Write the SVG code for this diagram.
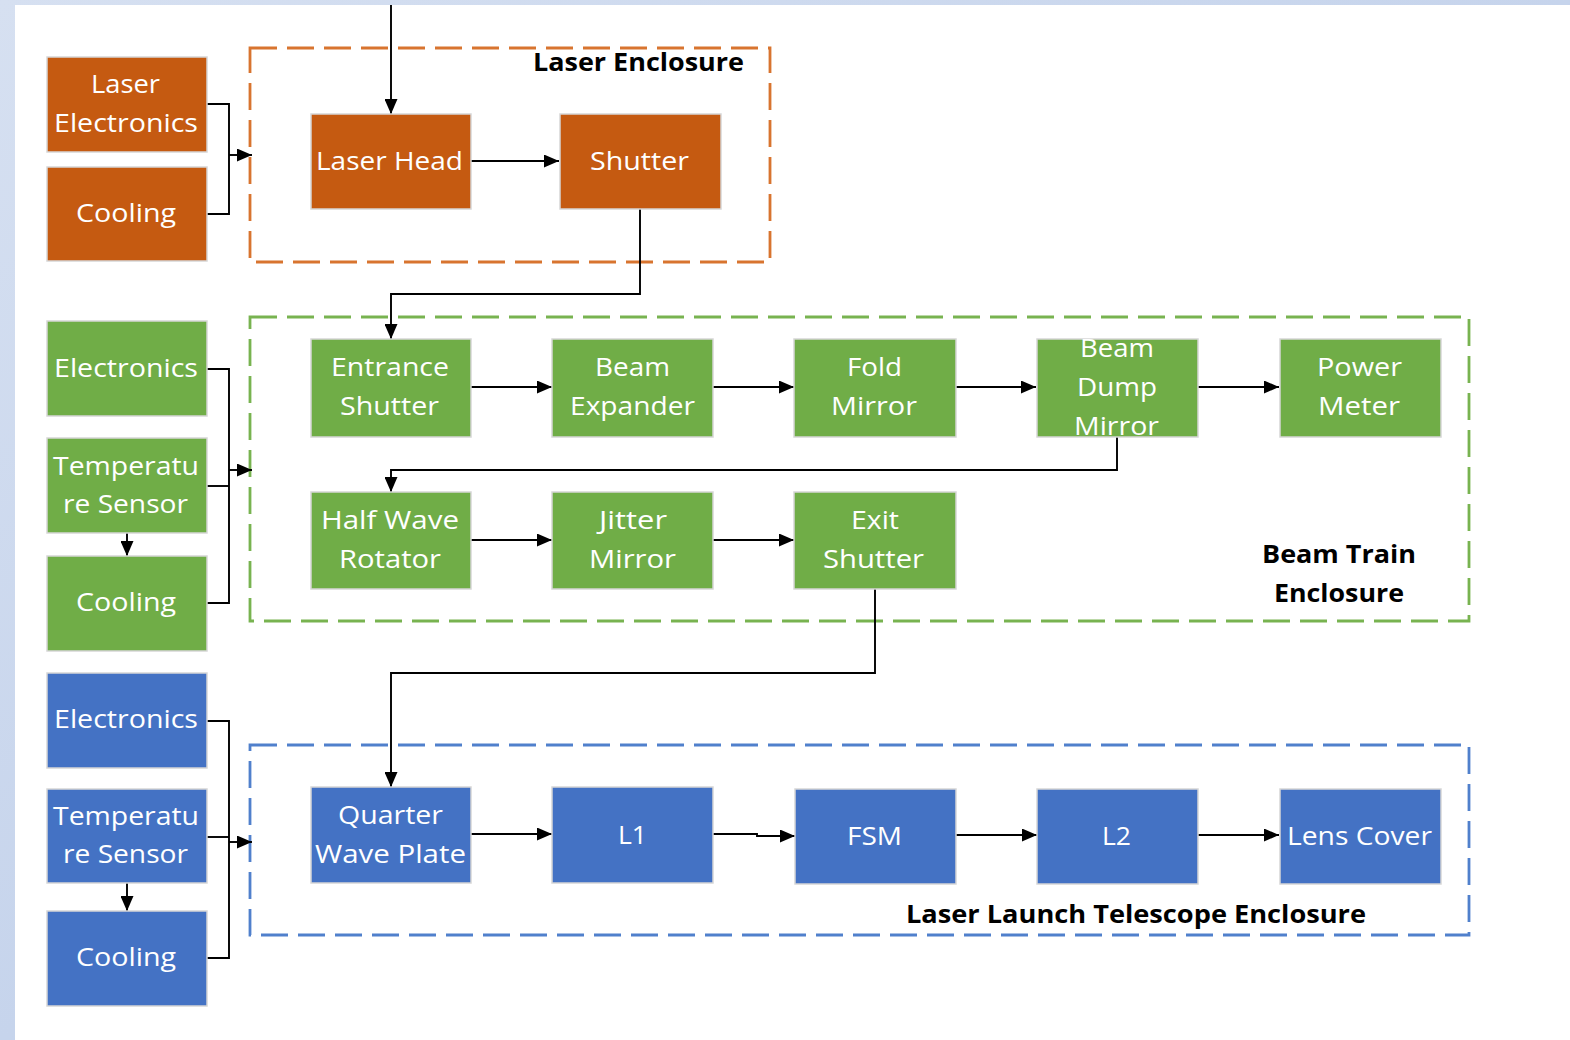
<svg xmlns="http://www.w3.org/2000/svg" width="1570" height="1040" viewBox="0 0 1570 1040">
<defs>
<linearGradient id="bg" x1="0" y1="0" x2="1" y2="1">
<stop offset="0" stop-color="#d6e0f1"/>
<stop offset="1" stop-color="#b6c8e7"/>
</linearGradient>
<marker id="arr" viewBox="0 0 15 13" refX="15" refY="6.5" markerWidth="15" markerHeight="13" markerUnits="userSpaceOnUse" orient="auto">
<path d="M0,0 L15,6.5 L0,13 z" fill="#000"/>
</marker>
<clipPath id="clipBDM"><rect x="1037" y="339" width="161" height="98"/></clipPath>
<style>
.o{fill:#C55A11;stroke:#d6d6d6;stroke-width:1.5}
.g{fill:#70AD47;stroke:#d6d6d6;stroke-width:1.5}
.b{fill:#4472C4;stroke:#d6d6d6;stroke-width:1.5}
.t{font-family:"Open Sans","Noto Sans",sans-serif;font-size:25.5px;fill:#fff}
.h{font-family:"Open Sans","Noto Sans",sans-serif;font-size:25px;font-weight:bold;fill:#000}
.encl{fill:none;stroke-width:2.8;stroke-dasharray:27 10}
.c{fill:none;stroke:#000;stroke-width:1.9}
.a{marker-end:url(#arr)}
</style>
</defs>
<rect x="0" y="0" width="1570" height="1040" fill="url(#bg)"/>
<rect x="15" y="5" width="1555" height="1035" fill="#fff"/>

<g id="enclosures">
<rect id="laser-enclosure" class="encl" x="250" y="48" width="520" height="214" stroke="#D8742F"/>
<rect id="beam-train-enclosure" class="encl" x="250" y="317" width="1219" height="304" stroke="#78B350"/>
<rect id="llt-enclosure" class="encl" x="250" y="745" width="1219" height="190" stroke="#5080CC"/>
<text class="h" x="533" y="71" textLength="211" lengthAdjust="spacingAndGlyphs">Laser Enclosure</text>
<text class="h" x="1262" y="563" textLength="154" lengthAdjust="spacingAndGlyphs">Beam Train</text>
<text class="h" x="1274" y="602" textLength="130" lengthAdjust="spacingAndGlyphs">Enclosure</text>
<text class="h" x="906" y="923" textLength="460" lengthAdjust="spacingAndGlyphs">Laser Launch Telescope Enclosure</text>
</g>

<g id="connectors">
<path class="c a" d="M391,5 V114"/>
<path class="c a" d="M471,161 H559"/>
<path class="c a" d="M640,209 V294 H391 V339"/>
<path class="c" d="M207,104 H229 V214 H207"/>
<path class="c a" d="M229,155 H252"/>
<path class="c a" d="M471,387 H552"/>
<path class="c a" d="M713,387 H794"/>
<path class="c a" d="M956,387 H1036"/>
<path class="c a" d="M1197,387 H1279"/>
<path class="c a" d="M1117,437 V470 H391 V492"/>
<path class="c a" d="M471,540 H552"/>
<path class="c a" d="M713,540 H794"/>
<path class="c a" d="M875,589 V673 H391 V787"/>
<path class="c a" d="M471,834 H552"/>
<path class="c a" d="M713,834 H757 V836 H795"/>
<path class="c a" d="M956,835 H1037"/>
<path class="c a" d="M1197,835 H1279"/>
<path class="c" d="M207,369 H229 V603 H207"/>
<path class="c" d="M207,486 H229"/>
<path class="c a" d="M229,470 H252"/>
<path class="c a" d="M127,533 V556"/>
<path class="c" d="M207,721 H229 V958 H207"/>
<path class="c" d="M207,837 H229"/>
<path class="c a" d="M229,842 H252"/>
<path class="c a" d="M127,883 V911"/>
</g>

<g id="laser-electronics"><rect class="o" x="47" y="57" width="160" height="95"/>
<text class="t" x="91" y="93" textLength="69" lengthAdjust="spacingAndGlyphs">Laser</text>
<text class="t" x="54" y="132" textLength="144" lengthAdjust="spacingAndGlyphs">Electronics</text></g>
<g id="laser-cooling"><rect class="o" x="47" y="167" width="160" height="94"/>
<text class="t" x="76" y="222" textLength="100" lengthAdjust="spacingAndGlyphs">Cooling</text></g>
<g id="laser-head"><rect class="o" x="311" y="114" width="160" height="95"/>
<text class="t" x="316" y="170" textLength="147" lengthAdjust="spacingAndGlyphs">Laser Head</text></g>
<g id="shutter"><rect class="o" x="560" y="114" width="161" height="95"/>
<text class="t" x="590" y="170" textLength="99" lengthAdjust="spacingAndGlyphs">Shutter</text></g>

<g id="bt-electronics"><rect class="g" x="47" y="321" width="160" height="95"/>
<text class="t" x="54" y="377" textLength="144" lengthAdjust="spacingAndGlyphs">Electronics</text></g>
<g id="bt-temperature-sensor"><rect class="g" x="47" y="438" width="160" height="95"/>
<text class="t" x="53" y="475" textLength="146" lengthAdjust="spacingAndGlyphs">Temperatu</text>
<text class="t" x="63" y="513" textLength="125" lengthAdjust="spacingAndGlyphs">re Sensor</text></g>
<g id="bt-cooling"><rect class="g" x="47" y="556" width="160" height="95"/>
<text class="t" x="76" y="611" textLength="100" lengthAdjust="spacingAndGlyphs">Cooling</text></g>

<g id="entrance-shutter"><rect class="g" x="311" y="339" width="160" height="98"/>
<text class="t" x="331" y="376" textLength="118" lengthAdjust="spacingAndGlyphs">Entrance</text>
<text class="t" x="340" y="415" textLength="99" lengthAdjust="spacingAndGlyphs">Shutter</text></g>
<g id="beam-expander"><rect class="g" x="552" y="339" width="161" height="98"/>
<text class="t" x="595" y="376" textLength="75" lengthAdjust="spacingAndGlyphs">Beam</text>
<text class="t" x="570" y="415" textLength="125" lengthAdjust="spacingAndGlyphs">Expander</text></g>
<g id="fold-mirror"><rect class="g" x="794" y="339" width="162" height="98"/>
<text class="t" x="847" y="376" textLength="55" lengthAdjust="spacingAndGlyphs">Fold</text>
<text class="t" x="831" y="415" textLength="86" lengthAdjust="spacingAndGlyphs">Mirror</text></g>
<g id="beam-dump-mirror"><rect class="g" x="1037" y="339" width="161" height="98"/>
<g clip-path="url(#clipBDM)">
<text class="t" x="1080" y="357" textLength="74" lengthAdjust="spacingAndGlyphs">Beam</text>
<text class="t" x="1077" y="396" textLength="80" lengthAdjust="spacingAndGlyphs">Dump</text>
<text class="t" x="1074" y="435" textLength="85" lengthAdjust="spacingAndGlyphs">Mirror</text></g></g>
<g id="power-meter"><rect class="g" x="1280" y="339" width="161" height="98"/>
<text class="t" x="1317" y="376" textLength="85" lengthAdjust="spacingAndGlyphs">Power</text>
<text class="t" x="1318" y="415" textLength="82" lengthAdjust="spacingAndGlyphs">Meter</text></g>

<g id="half-wave-rotator"><rect class="g" x="311" y="492" width="160" height="97"/>
<text class="t" x="321" y="529" textLength="138" lengthAdjust="spacingAndGlyphs">Half Wave</text>
<text class="t" x="339" y="568" textLength="102" lengthAdjust="spacingAndGlyphs">Rotator</text></g>
<g id="jitter-mirror"><rect class="g" x="552" y="492" width="161" height="97"/>
<text class="t" x="599" y="529" textLength="68" lengthAdjust="spacingAndGlyphs">Jitter</text>
<text class="t" x="589" y="568" textLength="87" lengthAdjust="spacingAndGlyphs">Mirror</text></g>
<g id="exit-shutter"><rect class="g" x="794" y="492" width="162" height="97"/>
<text class="t" x="851" y="529" textLength="48" lengthAdjust="spacingAndGlyphs">Exit</text>
<text class="t" x="823" y="568" textLength="101" lengthAdjust="spacingAndGlyphs">Shutter</text></g>

<g id="llt-electronics"><rect class="b" x="47" y="673" width="160" height="95"/>
<text class="t" x="54" y="728" textLength="144" lengthAdjust="spacingAndGlyphs">Electronics</text></g>
<g id="llt-temperature-sensor"><rect class="b" x="47" y="789" width="160" height="94"/>
<text class="t" x="53" y="825" textLength="146" lengthAdjust="spacingAndGlyphs">Temperatu</text>
<text class="t" x="63" y="863" textLength="125" lengthAdjust="spacingAndGlyphs">re Sensor</text></g>
<g id="llt-cooling"><rect class="b" x="47" y="911" width="160" height="95"/>
<text class="t" x="76" y="966" textLength="100" lengthAdjust="spacingAndGlyphs">Cooling</text></g>

<g id="quarter-wave-plate"><rect class="b" x="311" y="787" width="160" height="96"/>
<text class="t" x="338" y="824" textLength="105" lengthAdjust="spacingAndGlyphs">Quarter</text>
<text class="t" x="315" y="863" textLength="151" lengthAdjust="spacingAndGlyphs">Wave Plate</text></g>
<g id="l1"><rect class="b" x="552" y="787" width="161" height="96"/>
<text class="t" x="618" y="844" textLength="29" lengthAdjust="spacingAndGlyphs">L1</text></g>
<g id="fsm"><rect class="b" x="795" y="789" width="161" height="95"/>
<text class="t" x="847" y="845" textLength="55" lengthAdjust="spacingAndGlyphs">FSM</text></g>
<g id="l2"><rect class="b" x="1037" y="789" width="161" height="95"/>
<text class="t" x="1102" y="845" textLength="29" lengthAdjust="spacingAndGlyphs">L2</text></g>
<g id="lens-cover"><rect class="b" x="1280" y="789" width="161" height="95"/>
<text class="t" x="1287" y="845" textLength="145" lengthAdjust="spacingAndGlyphs">Lens Cover</text></g>
</svg>
